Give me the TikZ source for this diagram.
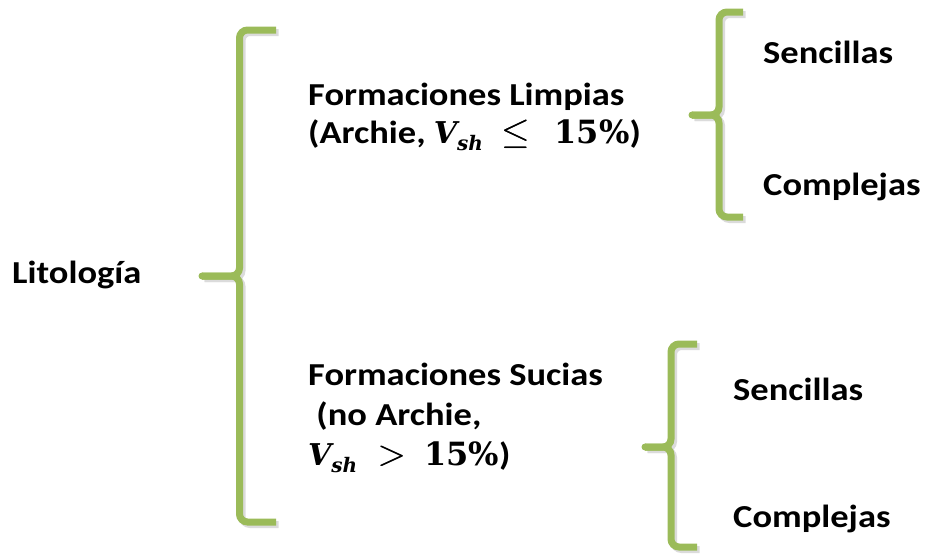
\documentclass[tikz,border=0pt]{standalone}
\usepackage{fix-cm}
\usepackage{graphicx}
\usepackage[no-math]{fontspec}
\setmainfont{Carlito}[FakeStretch=1.14]
\newfontfamily\mate{DejaVu Serif}
\usetikzlibrary{positioning}
\definecolor{Llave}{RGB}{155,187,89}
\newcommand{\vsh}{{\mate\bfseries\itshape\fontsize{30}{30}\selectfont V\raisebox{-7pt}{\fontsize{20}{20}\selectfont sh}}}
\newcommand{\mnum}[1]{{\mate\bfseries\fontsize{32}{32}\selectfont #1}}
\newcommand{\mrel}[1]{\scalebox{1.15}{\makebox[0pt][l]{$#1$}\kern0.8pt$#1$}}
\tikzset{
  llave/.style={draw=Llave,line width=7pt,rounded corners=8pt},
  sombra/.style={draw=black!14,line width=7pt,rounded corners=8pt},
  ltxt/.style={font=\fontsize{32}{38}\selectfont\bfseries,inner sep=0pt,anchor=base west,align=left}
}
% #1 x, #2 top, #3 middle, #4 bottom, #5 arm end, #6 tick end
\newcommand{\dibllave}[6]{%
  \begin{scope}[shift={(2.5,2.5)}]
    \draw[sombra] (#5,#2) -- (#1,#2) -- (#1,#3) -- (#6,#3);
    \draw[sombra] (#6,#3) -- (#1,#3) -- (#1,#4) -- (#5,#4);
  \end{scope}
  \draw[llave] (#5,#2) -- (#1,#2) -- (#1,#3) -- (#6,#3);
  \draw[llave] (#6,#3) -- (#1,#3) -- (#1,#4) -- (#5,#4);
  \fill[Llave] (#6,#3) circle (3.5);
}
\begin{document}
\begin{tikzpicture}[x=1pt,y=-1pt]
\useasboundingbox (0,0) rectangle (926,555);
\node[ltxt] (lito) at (12,283) {Litología};
% base = ultima linea
\node[ltxt] (limpias) at (308,143) {Formaciones Limpias\\(Archie, \vsh\hspace{18pt}\mrel{\leq}\hspace{24pt}\mnum{15\%})};
\node[ltxt,font=\fontsize{32}{40}\selectfont\bfseries] (sucias) at (308,465) {Formaciones Sucias\\ \ (no Archie,\\\vsh\hspace{20pt}\mrel{>}\hspace{18pt}\mnum{15\%})};
\node[ltxt] (sen1) at (763,63) {Sencillas};
\node[ltxt] (com1) at (763,195) {Complejas};
\node[ltxt] (sen2) at (733,400) {Sencillas};
\node[ltxt] (com2) at (733,527) {Complejas};
% llaves
\dibllave{239.5}{30}{276}{522}{276}{202}
\dibllave{719}{12}{115}{217}{743}{692}
\dibllave{671}{344}{447}{547}{697}{645}
\end{tikzpicture}
\end{document}
